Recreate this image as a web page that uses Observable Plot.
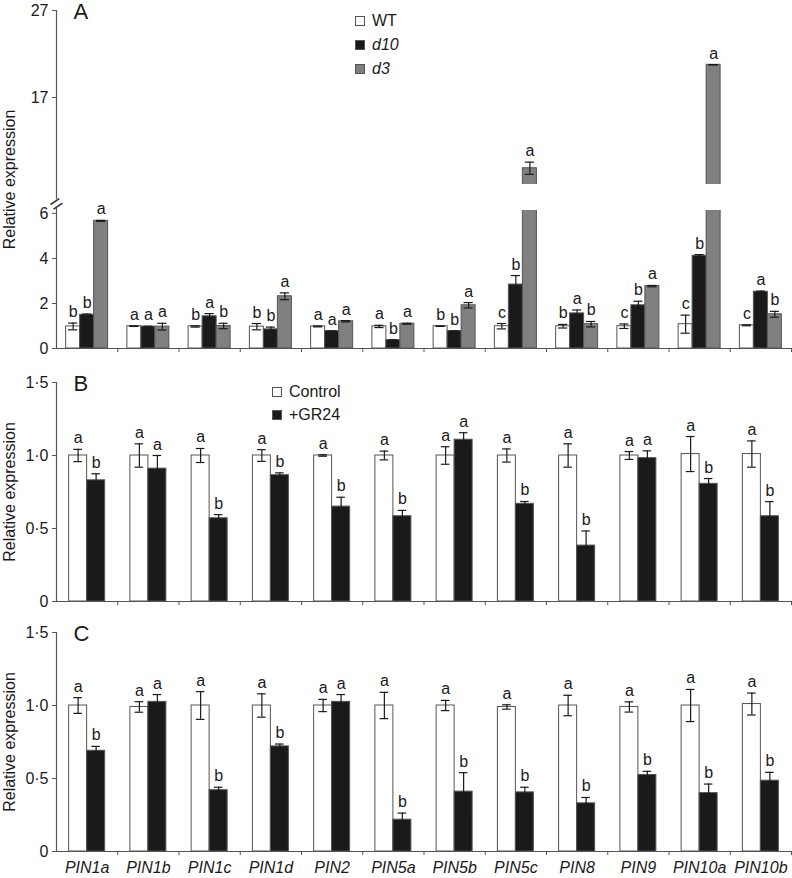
<!DOCTYPE html>
<html><head><meta charset="utf-8">
<script src="https://cdn.jsdelivr.net/npm/d3@7"></script>
<script src="https://cdn.jsdelivr.net/npm/@observablehq/plot@0.6"></script>
<style>
body{margin:0;background:#fff;font-family:"Liberation Sans",Arial,sans-serif;}
#wrap{position:relative;width:792px;height:878px;overflow:hidden;}
#wrap svg{display:block;}
.legend{position:absolute;font-size:16px;color:#1a1a1a;}
.legend .row{display:flex;align-items:center;}
.legend .sw{width:8px;height:8px;border:1px solid #555;margin-right:7px;box-sizing:content-box;}
</style></head><body><div id="wrap"></div>
<script>
const genes = ["PIN1a","PIN1b","PIN1c","PIN1d","PIN2","PIN5a","PIN5b","PIN5c","PIN8","PIN9","PIN10a","PIN10b"];

// Panel A: WT, d10, d3
const aSeries = ["WT","d10","d3"];
const aWT     = [0.98,0.99,0.98,0.97,0.98,0.98,0.99,0.99,0.99,0.99,1.08,1.03];
const aWTerr  = [0.15,0.01,0.03,0.14,0.02,0.05,0.01,0.12,0.08,0.10,0.40,0.02];
const aWTsig  = ["b","a","b","b","a","a","b","c","b","c","c","c"];
const aD10    = [1.50,0.97,1.43,0.85,0.77,0.37,0.77,2.84,1.56,1.92,4.12,2.52];
const aD10err = [0.03,0.02,0.12,0.10,0.01,0.01,0.01,0.40,0.15,0.18,0.05,0.03];
const aD10sig = ["b","a","a","b","a","b","b","b","a","b","b","a"];
const aD3     = [5.67,0.97,1.00,2.32,1.21,1.10,1.92,8.87,1.08,2.77,20.76,1.52];
const aD3err  = [0.02,0.15,0.12,0.15,0.03,0.02,0.12,0.70,0.12,0.03,0.02,0.13];
const aD3sig  = ["a","a","b","a","a","a","a","a","b","a","a","b"];

// Panel B: Control, +GR24
const bSeries = ["Control","+GR24"];
const bCtl    = [1.00,1.00,1.00,1.00,1.00,1.00,1.00,1.00,1.00,1.00,1.01,1.01];
const bCtlErr = [0.042,0.08,0.048,0.04,0.005,0.03,0.06,0.045,0.08,0.027,0.12,0.09];
const bCtlSig = ["a","a","a","a","a","a","a","a","a","a","a","a"];
const bGR     = [0.83,0.91,0.57,0.865,0.65,0.584,1.108,0.669,0.383,0.982,0.806,0.584];
const bGRerr  = [0.045,0.09,0.025,0.016,0.064,0.04,0.048,0.016,0.10,0.05,0.036,0.10];
const bGRsig  = ["b","a","b","b","b","b","a","b","b","a","b","b"];

// Panel C: Control, +GR24
const cCtl    = [1.00,0.99,1.00,1.00,1.00,1.00,1.00,0.99,1.00,0.99,1.00,1.01];
const cCtlErr = [0.054,0.036,0.095,0.08,0.042,0.09,0.035,0.015,0.07,0.035,0.11,0.075];
const cCtlSig = ["a","a","a","a","a","a","a","a","a","a","a","a"];
const cGR     = [0.69,1.025,0.42,0.72,1.025,0.218,0.41,0.405,0.33,0.524,0.40,0.485];
const cGRerr  = [0.03,0.05,0.02,0.016,0.05,0.045,0.13,0.035,0.04,0.025,0.062,0.057];
const cGRsig  = ["b","a","b","b","a","b","b","b","b","b","b","b"];

const yTicksA = [0,2,4,6,17,27];
const yTicksBC = [0,0.5,1,1.5];
// broken axis of panel A: lower part 0–6.13, gap 6.13–7, upper part 7–27
const yBreaks = [0, 6.13, 7, 27];

const FONT = '"Liberation Sans", Arial, sans-serif';
const fmtDot = d => d === 0 ? "0" : d.toFixed(1).replace(".", "\u00b7");

function buildRows(seriesNames, vals, errs, sigs, barW) {
  const n = seriesNames.length;
  const off = (1 - n * barW) / 2;
  const rows = [];
  genes.forEach((g, i) => {
    seriesNames.forEach((s, k) => {
      const x1 = i + off + k * barW;
      rows.push({gene: g, series: s, k, value: vals[k][i], err: errs[k][i], sig: sigs[k][i],
                 x1, x2: x1 + barW, xc: x1 + barW / 2});
    });
  });
  return rows;
}

function panel({rows, fills, letter, height, marginTop, marginBottom, y, yTicks, yFormat, yTop, cap, broken, geneAxis}) {
  const marks = [];
  fills.forEach((f, k) => {
    marks.push(Plot.rectY(rows.filter(d => d.k === k), {x1: "x1", x2: "x2", y1: 0, y2: "value", fill: f, stroke: "#555", strokeWidth: 1}));
  });
  if (broken) {
    marks.push(Plot.rectY(rows.filter(d => d.value > broken[1]), {x1: "x1", x2: "x2", y1: broken[0], y2: broken[1], fill: "white", insetLeft: -2, insetRight: -2}));
  }
  // error bars
  marks.push(Plot.ruleX(rows, {x: "xc", y1: d => d.value - d.err, y2: d => d.value + d.err, stroke: "#1a1a1a", strokeWidth: 1.2}));
  marks.push(Plot.ruleY(rows, {y: d => d.value + d.err, x1: d => d.xc - cap, x2: d => d.xc + cap, stroke: "#1a1a1a", strokeWidth: 1.2}));
  marks.push(Plot.ruleY(rows, {y: d => d.value - d.err, x1: d => d.xc - cap, x2: d => d.xc + cap, stroke: "#1a1a1a", strokeWidth: 1.2}));
  // significance letters
  marks.push(Plot.text(rows, {x: "xc", y: d => d.value + d.err, text: "sig", lineAnchor: "bottom", dy: -6, fontSize: 16, fill: "#1a1a1a"}));
  // axis lines
  marks.push(Plot.ruleY([0], {x1: 0, x2: 12, stroke: "#555", strokeWidth: 1.2}));
  if (broken) {
    marks.push(Plot.ruleX([0], {y1: 0, y2: 6.2, stroke: "#555", strokeWidth: 1.2}));
    marks.push(Plot.ruleX([0], {y1: 6.5, y2: yTop, stroke: "#555", strokeWidth: 1.2}));
    marks.push(Plot.text(["="], {x: 0, y: 6.35, rotate: -35, fontSize: 22, fill: "#333"}));
  } else {
    marks.push(Plot.ruleX([0], {y1: 0, y2: yTop, stroke: "#555", strokeWidth: 1.2}));
  }
  marks.push(Plot.axisX({ticks: d3.range(1, 13), tickSize: 4, tickFormat: () => "", label: null, stroke: "#555"}));
  if (geneAxis) {
    marks.push(Plot.axisX({ticks: genes.map((g, i) => i + 0.5), tickFormat: d => genes[Math.round(d - 0.5)], tickSize: 0, tickPadding: 10, fontStyle: "italic", fontSize: 16, label: null}));
  }
  marks.push(Plot.axisY({ticks: yTicks, tickFormat: yFormat, tickSize: 4, tickPadding: 4, fontSize: 16,
    label: "Relative expression", labelAnchor: "center", labelArrow: "none", labelOffset: 53, stroke: "#555"}));
  marks.push(Plot.text([letter], {frameAnchor: "top-left", dx: 17, dy: -7, lineAnchor: "top", fontSize: 22, fill: "#1a1a1a"}));
  return Plot.plot({
    width: 792, height, marginTop, marginBottom, marginLeft: 56, marginRight: 1,
    style: {fontFamily: FONT, fontSize: "16px", color: "#1a1a1a", background: "white"},
    x: {domain: [0, 12]},
    y,
    marks
  });
}

const wrap = document.getElementById("wrap");

// piecewise transform for the broken axis (lower part stretched, upper part compressed)
const brokenY = d3.scaleLinear().domain(yBreaks).range([0, 138, 164, 338]);

const rowsA = buildRows(aSeries, [aWT, aD10, aD3], [aWTerr, aD10err, aD3err], [aWTsig, aD10sig, aD3sig], 14 / 61.25);
wrap.appendChild(panel({
  rows: rowsA, fills: ["white", "#1a1a1a", "#808080"], letter: "A",
  height: 360, marginTop: 10, marginBottom: 12,
  y: {transform: brokenY, domain: [brokenY(0), brokenY(27)]},
  // axis ticks are not passed through the scale transform, so give them in transformed units
  yTicks: yTicksA.map(brokenY), yFormat: d => String(Math.round(brokenY.invert(d))),
  yTop: 27, cap: 0.075, broken: [yBreaks[1], yBreaks[2]], geneAxis: false
}));

const rowsB = buildRows(bSeries, [bCtl, bGR], [bCtlErr, bGRerr], [bCtlSig, bGRsig], 18 / 61.25);
wrap.appendChild(panel({
  rows: rowsB, fills: ["white", "#1a1a1a"], letter: "B",
  height: 250, marginTop: 22, marginBottom: 9,
  y: {domain: [0, 1.5]}, yTicks: yTicksBC, yFormat: fmtDot, yTop: 1.5, cap: 0.07, broken: null, geneAxis: false
}));

const rowsC = buildRows(bSeries, [cCtl, cGR], [cCtlErr, cGRerr], [cCtlSig, cGRsig], 18 / 61.25);
wrap.appendChild(panel({
  rows: rowsC, fills: ["white", "#1a1a1a"], letter: "C",
  height: 268, marginTop: 22, marginBottom: 27,
  y: {domain: [0, 1.5]}, yTicks: yTicksBC, yFormat: fmtDot, yTop: 1.5, cap: 0.07, broken: null, geneAxis: true
}));

// legends
function addLegend(items, left, top, lh) {
  const div = document.createElement("div");
  div.className = "legend";
  div.style.left = left + "px";
  div.style.top = top + "px";
  items.forEach(it => {
    const r = document.createElement("div");
    r.className = "row";
    r.style.height = lh + "px";
    const sw = document.createElement("span");
    sw.className = "sw";
    sw.style.background = it.fill;
    const t = document.createElement("span");
    t.textContent = it.label;
    if (it.italic) t.style.fontStyle = "italic";
    r.appendChild(sw); r.appendChild(t);
    div.appendChild(r);
  });
  wrap.appendChild(div);
}
addLegend(aSeries.map((s, k) => ({label: s, fill: ["white", "#1a1a1a", "#808080"][k], italic: k > 0})), 355, 9, 24);
addLegend(bSeries.map((s, k) => ({label: s, fill: ["white", "#1a1a1a"][k], italic: false})), 272, 380, 23);
</script></body></html>
